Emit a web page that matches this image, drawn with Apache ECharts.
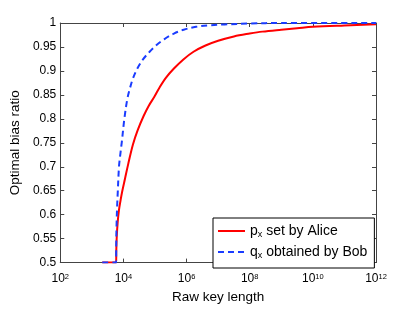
<!DOCTYPE html>
<html>
<head>
<meta charset="utf-8">
<script src="https://cdn.jsdelivr.net/npm/echarts@6/dist/echarts.min.js"></script>
<style>html,body{margin:0;padding:0;background:#fff}#c{width:415px;height:309px}</style>
</head>
<body>
<div id="c"></div>
<script>
// Raw key length given as powers of ten (log10 of the length), and the optimal bias ratio
const redLogX = [3.33, 3.77, 3.775, 3.79, 3.82, 3.86, 3.91, 3.96, 4.05, 4.15, 4.30, 4.45, 4.64, 4.80, 4.98, 5.15, 5.35, 5.60, 5.90, 6.22, 6.60, 7.00, 7.50, 8.00, 8.40, 9.00, 9.50, 10.0, 11.0, 12.0];
const redY    = [0.5, 0.5, 0.525, 0.555, 0.585, 0.61, 0.63, 0.648, 0.675, 0.705, 0.746, 0.776, 0.806, 0.827, 0.846, 0.866, 0.886, 0.905, 0.924, 0.94, 0.953, 0.963, 0.972, 0.978, 0.982, 0.986, 0.989, 0.992, 0.995, 0.9975];
const blueLogX = [3.33, 3.77, 3.772, 3.78, 3.80, 3.82, 3.86, 3.90, 3.95, 4.03, 4.12, 4.20, 4.30, 4.45, 4.62, 4.83, 5.05, 5.29, 5.60, 5.91, 6.30, 6.70, 7.20, 8.00, 9.00, 12.0];
const blueY    = [0.5, 0.5, 0.53, 0.57, 0.615, 0.645, 0.70, 0.725, 0.752, 0.80, 0.84, 0.862, 0.884, 0.906, 0.924, 0.94, 0.954, 0.966, 0.978, 0.986, 0.992, 0.995, 0.997, 0.999, 1.0, 1.0];
const seriesNames = ['p_x set by Alice', 'q_x obtained by Bob'];
const xTickExps = [2, 4, 6, 8, 10, 12];

const font = 'Liberation Sans, Arial, Helvetica, sans-serif';
const zip = (lx, ys) => lx.map((e, i) => [Math.pow(10, e), ys[i]]);
const axisColor = '#444';

const xAxisBase = {
  type: 'log', logBase: 100, min: Math.pow(10, xTickExps[0]), max: Math.pow(10, xTickExps[xTickExps.length - 1]),
  axisLine: {show: true, lineStyle: {color: axisColor, width: 1}},
  axisTick: {show: true, inside: true, length: 4, lineStyle: {color: axisColor}},
  splitLine: {show: false}, minorTick: {show: false}
};
const yAxisBase = {
  type: 'value', min: 0.5, max: 1, interval: 0.05,
  axisLine: {show: true, lineStyle: {color: axisColor, width: 1}},
  axisTick: {show: true, inside: true, length: 4, lineStyle: {color: axisColor}},
  splitLine: {show: false}
};

const chart = echarts.init(document.getElementById('c'), null, {renderer: 'canvas'});
chart.setOption({
  animation: false,
  backgroundColor: '#fff',
  textStyle: {fontFamily: font},
  grid: {left: 54, right: 39, top: 23, bottom: 36.5, containLabel: false},
  xAxis: [
    Object.assign({}, xAxisBase, {
      position: 'bottom',
      name: 'Raw key length', nameLocation: 'middle', nameGap: 27,
      nameTextStyle: {fontSize: 13.5, color: '#000', fontFamily: font},
      axisLabel: {
        margin: 10, color: '#000', fontFamily: font,
        formatter: v => '{b|10}{s|' + Math.round(Math.log10(v)) + '}',
        rich: {b: {fontSize: 12, lineHeight: 13, fontFamily: font, color: '#000'},
               s: {fontSize: 7.5, lineHeight: 13, verticalAlign: 'top', fontFamily: font, color: '#000'}}
      }
    }),
    Object.assign({}, xAxisBase, {position: 'top', axisLabel: {show: false}})
  ],
  yAxis: [
    Object.assign({}, yAxisBase, {
      position: 'left',
      name: 'Optimal bias ratio', nameLocation: 'middle', nameGap: 31,
      nameTextStyle: {fontSize: 13.5, color: '#000', fontFamily: font},
      axisLabel: {margin: 4, fontSize: 12, color: '#000', fontFamily: font}
    }),
    Object.assign({}, yAxisBase, {position: 'right', axisLabel: {show: false}})
  ],
  legend: {
    show: true, orient: 'vertical', left: 213, top: 218,
    backgroundColor: '#fff', borderColor: '#000', borderWidth: 1, borderRadius: 0,
    padding: [6, 7, 8, 4], itemGap: 6, itemWidth: 27, itemHeight: 14, itemTextGap: 3,
    itemStyle: {opacity: 0},
    data: seriesNames,
    formatter: name => {
      const m = name.match(/^(\w)_(\w)(.*)$/);
      return '{a|' + m[1] + '}{s|' + m[2] + '}{a|' + m[3] + '}';
    },
    textStyle: {
      fontFamily: font, color: '#000',
      rich: {a: {fontSize: 14, lineHeight: 16, fontFamily: font, color: '#000'},
             s: {fontSize: 9, lineHeight: 16, verticalAlign: 'bottom', fontFamily: font, color: '#000'}}
    }
  },
  series: [
    {name: seriesNames[0], type: 'line', xAxisIndex: 0, yAxisIndex: 0, data: zip(redLogX, redY),
     smooth: 0.35, symbol: 'none', showSymbol: false,
     lineStyle: {color: '#ff0000', width: 2}, itemStyle: {color: '#ff0000'}, z: 2},
    {name: seriesNames[1], type: 'line', xAxisIndex: 0, yAxisIndex: 0, data: zip(blueLogX, blueY),
     smooth: 0.35, symbol: 'none', showSymbol: false,
     lineStyle: {color: '#1a3cff', width: 2, type: [6, 4]}, itemStyle: {color: '#1a3cff'}, z: 3}
  ]
});
</script>
</body>
</html>
